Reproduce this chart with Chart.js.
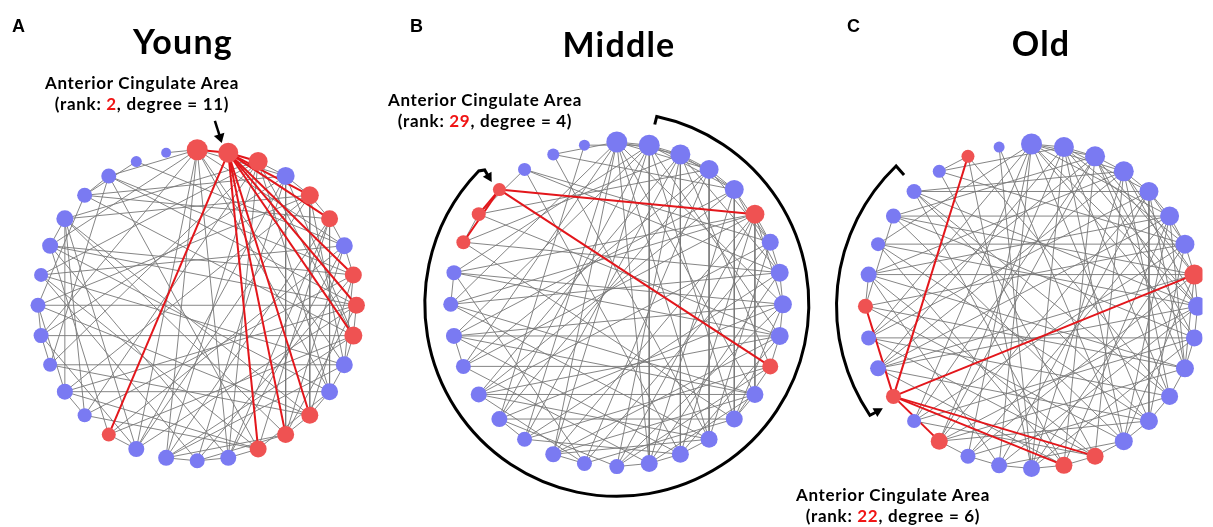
<!DOCTYPE html>
<html>
<head>
<meta charset="utf-8">
<script src="https://cdn.jsdelivr.net/npm/chart.js@4.4.1/dist/chart.umd.min.js"></script>
<style>
  html, body { margin: 0; padding: 0; background: #fff; }
  #wrap { position: relative; width: 1213px; height: 527px; overflow: hidden; }
  #wrap canvas { position: absolute; left: 0; top: 0; }
  .t { position: absolute; white-space: nowrap; line-height: 1; color: #000; }
  .letter { font: bold 18px "Liberation Sans", Arial, sans-serif; }
  .title { font: bold 34px Lato, sans-serif; letter-spacing: 1.2px; transform: translateX(-50%); }
  .lab { font: bold 17px Lato, sans-serif; letter-spacing: 0.7px; transform: translateX(-50%); }
  .hl { color: #f01414; }
</style>
</head>
<body>
<div id="wrap"><canvas id="net" width="1213" height="527"></canvas></div>
<script>
// ---- data -------------------------------------------------------------
const ageGroups = ['Young', 'Middle', 'Old'];
const panelLetters = ['A', 'B', 'C'];
const regionName = 'Anterior Cingulate Area';
const accRank = [2, 29, 22];          // rank of the anterior cingulate node in each network
const nodeCount = 32;                 // regions, placed on the ring by degree rank

// edges as [rank, rank] pairs
const youngEdges = [
  [1,2],[2,3],[2,5],[2,6],[2,8],[2,9],[2,10],[2,13],[2,14],[2,15],[2,20],
  [3,4],[4,5],[5,6],[6,7],[7,8],[10,11],[11,12],[12,13],[13,14],[16,17],[17,18],[19,20],
  [21,22],[24,25],[27,28],[29,30],[1,32],[9,10],[23,24],[15,16],
  [1,30],[1,27],[1,24],[1,19],[1,18],[1,12],[1,7],[1,11],[1,16],[1,4],
  [9,25],[11,23],[12,22],[22,28],[5,13],[8,27],[15,26],[4,29],[7,31],[29,31],
  [3,21],[3,26],[3,18],[3,10],[3,23],[3,12],[3,16],[3,28],
  [4,19],[4,14],[4,24],[4,10],[4,17],
  [5,25],[5,19],[5,11],[5,28],[5,22],
  [6,29],[6,18],[6,12],[6,15],[6,16],
  [7,20],[7,26],[7,16],[7,14],
  [8,21],[8,17],[8,30],[8,13],[8,11],
  [9,19],[9,27],[9,22],[9,14],[9,30],
  [10,24],[10,18],[10,29],[10,20],
  [11,26],[11,18],[12,27],[12,15],
  [13,25],[13,23],[13,28],
  [14,28],[14,18],[14,17],
  [15,22],[15,30],[15,21],
  [16,27],[17,26],[19,28],[19,24],[20,27],[21,28],[22,25],[23,30],[25,29]
];

const middleEdges = [
  [6,29],[11,29],[27,29],[28,29],
  [1,2],[1,3],[1,4],[1,16],[1,20],[1,23],[1,25],[1,14],[1,19],[1,12],[1,31],[1,9],
  [2,3],[2,4],[2,5],[2,19],[2,21],[2,24],[2,16],[2,13],[2,26],[2,10],[2,32],
  [3,4],[3,5],[3,15],[3,20],[3,22],[3,17],[3,8],[3,27],[3,11],
  [4,5],[4,7],[4,21],[4,23],[4,14],[4,18],[4,28],
  [5,7],[5,8],[5,31],[5,16],[5,22],[5,24],[5,13],
  [6,7],[6,26],[6,25],[6,19],[6,17],[6,9],[6,12],[6,23],[6,15],
  [7,8],[7,30],[7,18],[7,22],[7,14],
  [8,9],[8,20],[8,25],[8,16],[8,27],[8,30],
  [9,10],[9,21],[9,24],[9,17],[9,26],[9,13],
  [10,11],[10,22],[10,19],[10,24],[10,15],[10,28],[10,26],
  [11,20],[11,23],[11,17],[11,13],
  [12,22],[12,13],[12,19],[12,24],[12,16],[12,25],
  [13,21],[13,27],[13,18],
  [14,15],[14,22],[14,19],[14,25],[14,31],
  [15,16],[15,20],[15,24],[15,30],
  [16,17],[16,23],[17,21],[18,19],[18,22],[18,26],
  [20,21],[23,24],[25,26],[27,28],[28,30],[21,32]
];

const oldEdges = [
  [8,22],[15,22],[16,22],[20,22],[22,25],[22,31],
  [1,2],[1,3],[1,4],[1,6],[1,18],[1,21],[1,13],[1,24],[1,10],[1,19],[1,27],[1,9],
  [2,3],[2,5],[2,7],[2,17],[2,20],[2,23],[2,12],[2,14],[2,9],[2,30],
  [3,4],[3,8],[3,20],[3,24],[3,11],[3,16],[3,28],[3,21],[3,10],
  [4,5],[4,8],[4,17],[4,23],[4,12],[4,26],[4,29],[4,15],[4,9],
  [5,29],[5,13],[5,7],[5,18],[5,24],[5,11],[5,20],[5,6],
  [6,28],[6,7],[6,14],[6,19],[6,23],[6,11],[6,26],[6,16],
  [7,27],[7,8],[7,17],[7,21],[7,13],[7,25],[7,30],
  [8,26],[8,9],[8,19],[8,14],[8,23],[8,28],[8,11],
  [9,10],[9,18],[9,23],[9,20],[9,27],[9,29],
  [10,11],[10,17],[10,24],[10,21],[10,28],
  [11,12],[11,20],[11,26],[11,25],
  [12,13],[12,31],[12,19],[12,24],[12,29],
  [13,14],[13,20],[13,27],[13,23],[13,29],
  [14,15],[14,18],[14,28],[14,25],
  [15,16],[15,21],[15,26],[15,30],[15,24],
  [16,17],[16,23],[16,29],[16,27],
  [17,31],[17,18],[18,19],[18,26],[19,20],
  [25,26],[25,28],[30,31],[17,32],[14,32]
];

// ---- layout -----------------------------------------------------------
const edgeSets = [youngEdges, middleEdges, oldEdges];
const rings = [
  { cx: 190,  cy: 307, r: 162 },
  { cx: 617,  cy: 306, r: 169 },
  { cx: 1039, cy: 308, r: 169 }
];
const textLayout = [
  { letterX: 12,  titleX: 183,  titleTop: 20, labX: 142, labTop: 72 },
  { letterX: 410, titleX: 619,  titleTop: 23, labX: 485, labTop: 89 },
  { letterX: 847, titleX: 1041, titleTop: 22, labX: 893, labTop: 484 }
];
const EDGE_GREY = 'rgba(120,120,120,0.9)';
const EDGE_RED = '#e3161b';
const NODE_BLUE = '#7a7af2';
const NODE_RED = '#ef5252';

function ringPoint(ring, rank) {
  const a = (-90 + (rank - 1) * 360 / nodeCount) * Math.PI / 180;
  return { x: ring.cx + ring.r * Math.cos(a), y: ring.cy + ring.r * Math.sin(a) };
}

const datasets = [];
const accDegree = [];
edgeSets.forEach((edges, pi) => {
  const ring = rings[pi];
  const acc = accRank[pi];
  const ranks = [];
  for (let k = 1; k <= nodeCount; k++) ranks.push(k);
  const pos = {};
  ranks.forEach(k => { pos[k] = ringPoint(ring, k); });
  const deg = {};
  ranks.forEach(k => { deg[k] = 0; });
  const linked = new Set([acc]);
  edges.forEach(([a, b]) => {
    deg[a]++; deg[b]++;
    if (a === acc) linked.add(b);
    if (b === acc) linked.add(a);
  });
  accDegree.push(deg[acc]);
  edges.forEach(([a, b]) => {
    const hot = (a === acc || b === acc);
    datasets.push({
      data: [pos[a], pos[b]],
      showLine: true,
      borderColor: hot ? EDGE_RED : EDGE_GREY,
      borderWidth: hot ? 2 : 1,
      pointRadius: 0,
      order: hot ? 1 : 2
    });
  });
  datasets.push({
    data: ranks.map(k => pos[k]),
    showLine: false,
    pointRadius: ranks.map(k => 4.5 + 0.5 * deg[k]),
    pointBackgroundColor: ranks.map(k => linked.has(k) ? NODE_RED : NODE_BLUE),
    pointBorderWidth: 0,
    order: 0
  });
});

// curved rank arrows and the pointer to the highlighted node
function arrowHead(ctx, fx, fy, tx, ty, len, half) {
  const a = Math.atan2(ty - fy, tx - fx);
  ctx.beginPath();
  ctx.moveTo(tx, ty);
  ctx.lineTo(tx - len * Math.cos(a) + half * Math.sin(a), ty - len * Math.sin(a) - half * Math.cos(a));
  ctx.lineTo(tx - len * Math.cos(a) - half * Math.sin(a), ty - len * Math.sin(a) + half * Math.cos(a));
  ctx.closePath();
  ctx.fill();
}
const deg2rad = d => d * Math.PI / 180;
const pointers = {
  id: 'pointers',
  afterDatasetsDraw(chart) {
    const ctx = chart.ctx;
    const sx = chart.scales.x, sy = chart.scales.y;
    const P = (x, y) => [sx.getPixelForValue(x), sy.getPixelForValue(y)];
    ctx.save();
    ctx.strokeStyle = '#000';
    ctx.fillStyle = '#000';
    ctx.lineCap = 'butt';
    ctx.lineJoin = 'miter';

    // Young: short straight pointer
    const [a1, b1] = P(208, 115), [a2, b2] = P(213, 131);
    ctx.lineWidth = 2.5;
    ctx.beginPath(); ctx.moveTo(a1, b1); ctx.lineTo(a2, b2); ctx.stroke();
    const [a3, b3] = P(215, 138);
    arrowHead(ctx, a1, b1, a3, b3, 9, 5.5);

    // Middle: long clockwise arc
    ctx.lineWidth = 3;
    const cB = { x: 617, y: 306, r: 192 };
    const s = deg2rad(-78), e = deg2rad(224);
    const [bx, by] = P(cB.x, cB.y);
    const sxp = bx + cB.r * Math.cos(s), syp = by + cB.r * Math.sin(s);
    const exp = bx + cB.r * Math.cos(e), eyp = by + cB.r * Math.sin(e);
    ctx.beginPath();
    ctx.moveTo(sxp - 2, syp + 8);
    ctx.lineTo(sxp, syp);
    ctx.arc(bx, by, cB.r, s, e, false);
    ctx.lineTo(exp + 6, eyp - 1);
    ctx.lineTo(exp + 10, eyp + 6);
    ctx.stroke();
    arrowHead(ctx, exp + 6, eyp - 1, exp + 13, eyp + 11, 9, 5);

    // Old: shorter arc on the left
    const cC = { x: 1039, y: 308, r: 195 };
    const s2 = deg2rad(146), e2 = deg2rad(226);
    const [ccx, ccy] = P(cC.x, cC.y);
    const bx2 = ccx + cC.r * Math.cos(s2), by2 = ccy + cC.r * Math.sin(s2);
    const tx2 = ccx + cC.r * Math.cos(e2), ty2 = ccy + cC.r * Math.sin(e2);
    ctx.beginPath();
    ctx.moveTo(bx2 + 6, by2 - 3);
    ctx.lineTo(bx2, by2);
    ctx.arc(ccx, ccy, cC.r, s2, e2, false);
    ctx.lineTo(tx2 + 8, ty2 + 9);
    ctx.stroke();
    arrowHead(ctx, bx2 + 2, by2 - 1, bx2 + 13, by2 - 7, 9, 5);
    ctx.restore();
  }
};

new Chart(document.getElementById('net'), {
  type: 'scatter',
  data: { datasets },
  options: {
    responsive: false,
    animation: false,
    devicePixelRatio: 1,
    events: [],
    layout: { padding: 0 },
    scales: {
      x: { type: 'linear', min: 0, max: 1213, display: false },
      y: { type: 'linear', min: 0, max: 527, reverse: true, display: false }
    },
    plugins: { legend: { display: false }, tooltip: { enabled: false } }
  },
  plugins: [pointers]
});

// ---- text -------------------------------------------------------------
const wrap = document.getElementById('wrap');
function addText(cls, left, top, html) {
  const d = document.createElement('div');
  d.className = 't ' + cls;
  d.style.left = left + 'px';
  d.style.top = top + 'px';
  d.innerHTML = html;
  wrap.appendChild(d);
}
ageGroups.forEach((g, i) => {
  const L = textLayout[i];
  addText('letter', L.letterX, 16, panelLetters[i]);
  addText('title', L.titleX, L.titleTop, g);
  addText('lab', L.labX, L.labTop, regionName);
  addText('lab', L.labX, L.labTop + 21,
    '(rank: <span class="hl">' + accRank[i] + '</span>, degree = ' + accDegree[i] + ')');
});
</script>
</body>
</html>
